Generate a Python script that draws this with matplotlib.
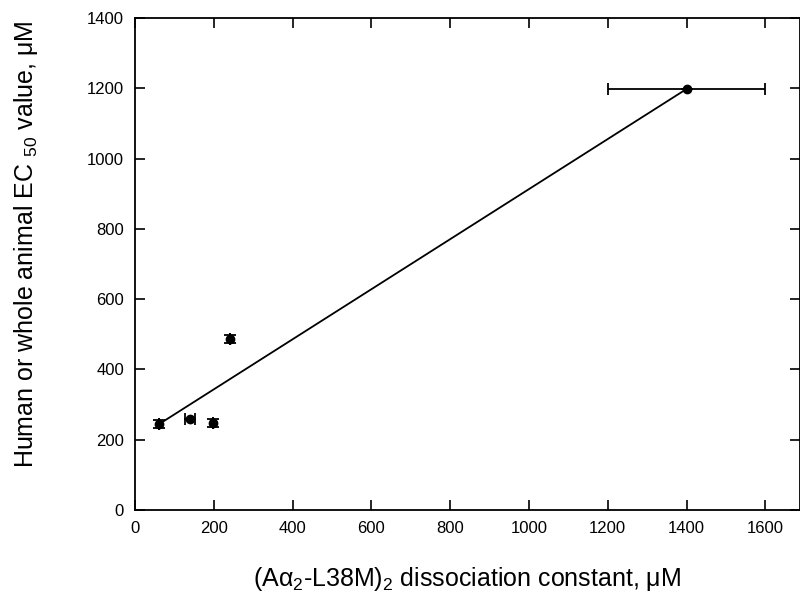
import matplotlib
matplotlib.use("Agg")
import matplotlib.pyplot as plt

plt.rcParams['font.family'] = ['Liberation Sans', 'DejaVu Sans']
plt.rcParams['mathtext.fontset'] = 'custom'
plt.rcParams['mathtext.rm'] = 'Liberation Sans'
plt.rcParams['mathtext.it'] = 'Liberation Sans'

# data
kd = [62, 140, 198, 241, 1400]
kd_err = [0, 12, 0, 0, 200]
ec50 = [245, 258, 247, 487, 1198]
ec50_err = [12, 0, 12, 12, 0]

fit_x = [62, 1400]
fit_y = [245, 1198]

fig = plt.figure(figsize=(8, 5.96), dpi=100)
ax = fig.add_axes([135 / 800, 86 / 596, 665 / 800, 492 / 596])

ax.plot(fit_x, fit_y, color='black', lw=1.3)
ax.errorbar(kd, ec50, xerr=kd_err, yerr=ec50_err, fmt='o', color='black',
            ms=6, elinewidth=1.3, capsize=4, capthick=1.3)

ax.set_xlim(0, 1688)
ax.set_ylim(0, 1400)
ax.set_xticks(range(0, 1601, 200))
ax.set_yticks(range(0, 1401, 200))
ax.tick_params(direction='in', length=7, width=1.2, labelsize=12,
               top=True, right=True, pad=8)
for s in ax.spines.values():
    s.set_linewidth(1.3)

ax.set_xlabel('(A\u03b1$_2$-L38M)$_2$ dissociation constant, \u03bcM', fontsize=18, labelpad=21)
ax.set_ylabel('Human or whole animal EC $_{50}$ value, \u03bcM', fontsize=18, labelpad=34, y=0.54)

fig.savefig('out.png', dpi=100)
